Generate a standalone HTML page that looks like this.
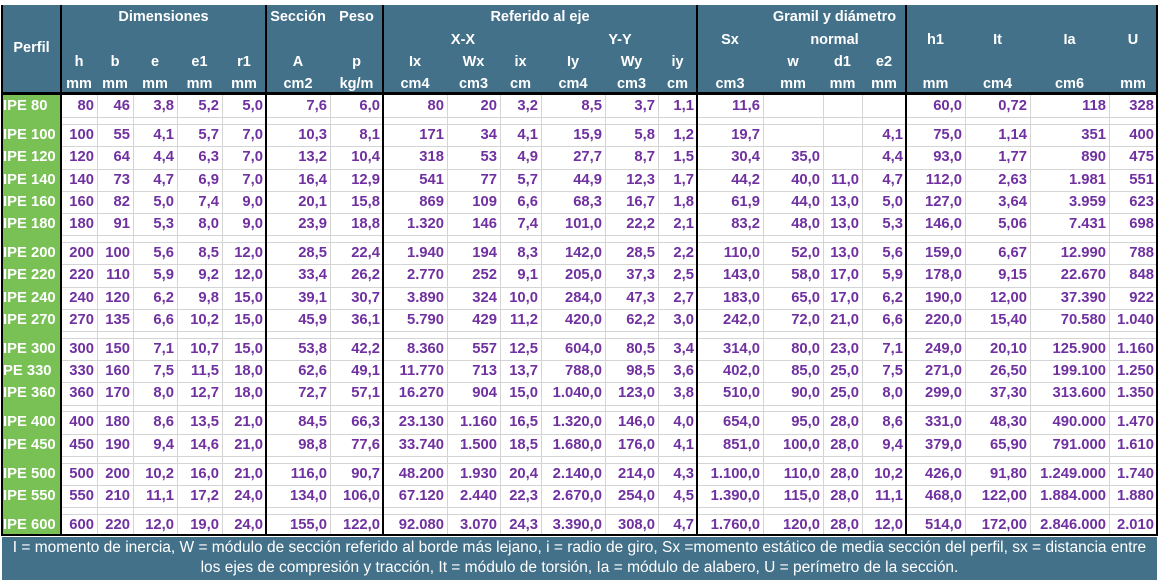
<!DOCTYPE html>
<html><head><meta charset="utf-8"><style>
body{margin:0;width:1166px;height:587px;background:#fff;position:relative;overflow:hidden;font-family:"Liberation Sans",sans-serif;}
.a{position:absolute;}
.h{position:absolute;color:#fff;font-weight:bold;font-size:14.5px;transform:translate(-50%,-50%);white-space:nowrap;}
.n{position:absolute;color:#7030a0;font-weight:bold;font-size:14.8px;text-align:right;white-space:nowrap;line-height:22px;}
.p{position:absolute;color:#fff;font-weight:bold;font-size:14.8px;white-space:nowrap;line-height:22px;}
.f{position:absolute;left:2px;width:1155px;text-align:center;color:#fff;font-size:15.5px;white-space:nowrap;}
</style></head><body>
<div class="a" style="left:2px;top:5px;width:1155px;height:88px;background:#44718a"></div>
<div class="a" style="left:2px;top:537px;width:1155px;height:43px;background:#44718a"></div>
<div class="f" style="top:539px">I = momento de inercia, W = módulo de sección referido al borde más lejano, i = radio de giro, Sx =momento estático de media sección del perfil, sx = distancia entre</div>
<div class="f" style="top:559px">los ejes de compresión y tracción, It = módulo de torsión, Ia = módulo de alabero, U = perímetro de la sección.</div>
<script>
var W=[59,36,36,44,45,44,64,53,64,53,41,64,53,39,66,60,39,44,59,65,79,48];
var X=[2];for(var i=0;i<W.length;i++)X.push(X[i]+W[i]);
function C(i){return (X[i]+X[i+1])/2;}
var out='';
function h(t,x,y){out+='<div class="h" style="left:'+x+'px;top:'+y+'px">'+t+'</div>';}
h('Perfil',C(0),48);h('Dimensiones',(X[1]+X[6])/2,17);h('Sección',C(6),17);h('Peso',C(7),17);
h('Referido al eje',(X[8]+X[14])/2,17);h('X-X',463,40);h('Y-Y',620,40);h('Sx',C(14),40);
h('Gramil y diámetro',(X[15]+X[18])/2,17);h('normal',(X[15]+X[18])/2,40);
h('h1',C(18),40);h('It',C(19),40);h('Ia',C(20),40);h('U',C(21),40);
var r3=['','h','b','e','e1','r1','A','p','Ix','Wx','ix','Iy','Wy','iy','','w','d1','e2'];
var r4=['','mm','mm','mm','mm','mm','cm2','kg/m','cm4','cm3','cm','cm4','cm3','cm','cm3','mm','mm','mm','mm','cm4','cm6','mm'];
for(var i=1;i<22;i++){if(r3[i])h(r3[i],C(i),62);h(r4[i],C(i),84);}
var D=[
['IPE 80','80','46','3,8','5,2','5,0','7,6','6,0','80','20','3,2','8,5','3,7','1,1','11,6','','','','60,0','0,72','118','328'],
['IPE 100','100','55','4,1','5,7','7,0','10,3','8,1','171','34','4,1','15,9','5,8','1,2','19,7','','','4,1','75,0','1,14','351','400'],
['IPE 120','120','64','4,4','6,3','7,0','13,2','10,4','318','53','4,9','27,7','8,7','1,5','30,4','35,0','','4,4','93,0','1,77','890','475'],
['IPE 140','140','73','4,7','6,9','7,0','16,4','12,9','541','77','5,7','44,9','12,3','1,7','44,2','40,0','11,0','4,7','112,0','2,63','1.981','551'],
['IPE 160','160','82','5,0','7,4','9,0','20,1','15,8','869','109','6,6','68,3','16,7','1,8','61,9','44,0','13,0','5,0','127,0','3,64','3.959','623'],
['IPE 180','180','91','5,3','8,0','9,0','23,9','18,8','1.320','146','7,4','101,0','22,2','2,1','83,2','48,0','13,0','5,3','146,0','5,06','7.431','698'],
['IPE 200','200','100','5,6','8,5','12,0','28,5','22,4','1.940','194','8,3','142,0','28,5','2,2','110,0','52,0','13,0','5,6','159,0','6,67','12.990','788'],
['IPE 220','220','110','5,9','9,2','12,0','33,4','26,2','2.770','252','9,1','205,0','37,3','2,5','143,0','58,0','17,0','5,9','178,0','9,15','22.670','848'],
['IPE 240','240','120','6,2','9,8','15,0','39,1','30,7','3.890','324','10,0','284,0','47,3','2,7','183,0','65,0','17,0','6,2','190,0','12,00','37.390','922'],
['IPE 270','270','135','6,6','10,2','15,0','45,9','36,1','5.790','429','11,2','420,0','62,2','3,0','242,0','72,0','21,0','6,6','220,0','15,40','70.580','1.040'],
['IPE 300','300','150','7,1','10,7','15,0','53,8','42,2','8.360','557','12,5','604,0','80,5','3,4','314,0','80,0','23,0','7,1','249,0','20,10','125.900','1.160'],
['PE 330','330','160','7,5','11,5','18,0','62,6','49,1','11.770','713','13,7','788,0','98,5','3,6','402,0','85,0','25,0','7,5','271,0','26,50','199.100','1.250'],
['IPE 360','360','170','8,0','12,7','18,0','72,7','57,1','16.270','904','15,0','1.040,0','123,0','3,8','510,0','90,0','25,0','8,0','299,0','37,30','313.600','1.350'],
['IPE 400','400','180','8,6','13,5','21,0','84,5','66,3','23.130','1.160','16,5','1.320,0','146,0','4,0','654,0','95,0','28,0','8,6','331,0','48,30','490.000','1.470'],
['IPE 450','450','190','9,4','14,6','21,0','98,8','77,6','33.740','1.500','18,5','1.680,0','176,0','4,1','851,0','100,0','28,0','9,4','379,0','65,90','791.000','1.610'],
['IPE 500','500','200','10,2','16,0','21,0','116,0','90,7','48.200','1.930','20,4','2.140,0','214,0','4,3','1.100,0','110,0','28,0','10,2','426,0','91,80','1.249.000','1.740'],
['IPE 550','550','210','11,1','17,2','24,0','134,0','106,0','67.120','2.440','22,3','2.670,0','254,0','4,5','1.390,0','115,0','28,0','11,1','468,0','122,00','1.884.000','1.880'],
['IPE 600','600','220','12,0','19,0','24,0','155,0','122,0','92.080','3.070','24,3','3.390,0','308,0','4,7','1.760,0','120,0','28,0','12,0','514,0','172,00','2.846.000','2.010']];
var gapAfter={0:1,5:1,9:1,12:1,14:1,16:1};
var y=95,RH=22.3,G=6.6;
out+='<div class="a" style="left:2px;top:95px;width:59px;height:440px;background:#79c155"></div>';
var lines=[];
for(var r=0;r<D.length;r++){
 var yy=y;
 out+='<div class="p" style="left:3px;top:'+yy+'px">'+D[r][0]+'</div>';
 for(var c=1;c<22;c++){if(D[r][c])out+='<div class="n" style="left:'+X[c]+'px;width:'+(W[c]-3)+'px;top:'+yy+'px">'+D[r][c]+'</div>';}
 y+=RH; lines.push(y);
 if(gapAfter[r]){y+=G;lines.push(y);}
}
for(var i=0;i<lines.length-1;i++)out+='<div class="a" style="left:61px;top:'+Math.round(lines[i])+'px;width:1096px;height:1px;background:#d4d4d4"></div>';
for(var c=2;c<22;c++)out+='<div class="a" style="left:'+X[c]+'px;top:95px;width:1px;height:440px;background:#d4d4d4"></div>';
var thick=[1,6,8,14,18];
for(var k=0;k<thick.length;k++)out+='<div class="a" style="left:'+(X[thick[k]]-1)+'px;top:5px;width:2px;height:530px;background:#000"></div>';
out+='<div class="a" style="left:1px;top:5px;width:2px;height:531px;background:#000"></div>';
out+='<div class="a" style="left:1156px;top:5px;width:2px;height:531px;background:#000"></div>';
out+='<div class="a" style="left:1px;top:92px;width:1157px;height:3px;background:#000"></div>';
out+='<div class="a" style="left:1px;top:534px;width:1157px;height:2px;background:#000"></div>';
document.body.insertAdjacentHTML('beforeend',out);
</script>
</body></html>
